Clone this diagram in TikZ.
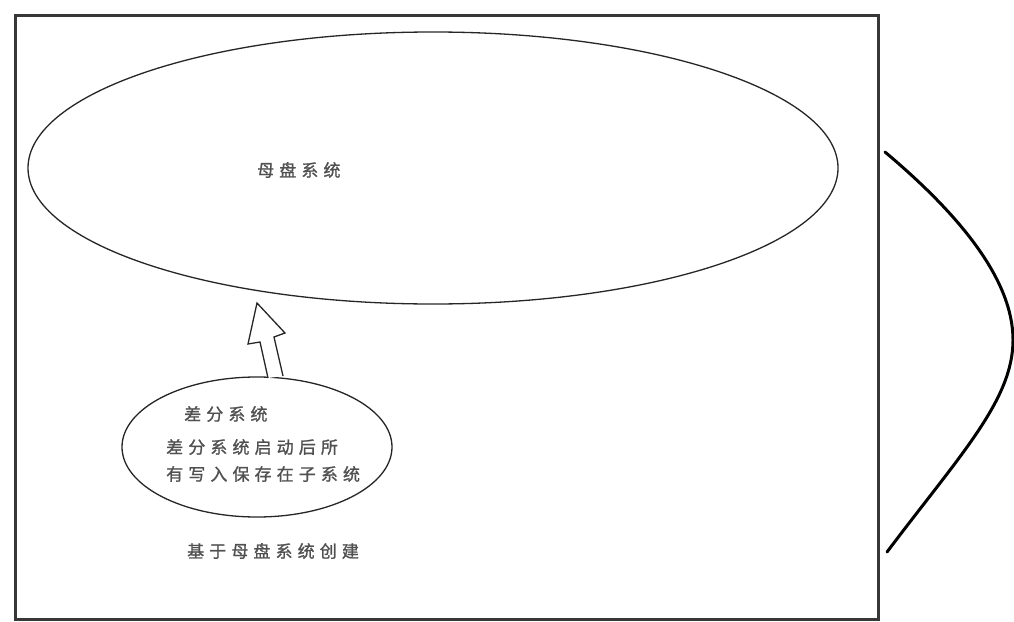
\documentclass[tikz,border=0pt]{standalone}
\usepackage{fontspec}
\newfontfamily\cjk[LetterSpace=30,FakeBold=1.2]{Noto Sans CJK SC}
\usetikzlibrary{shapes.geometric}
\definecolor{frame}{RGB}{55,55,55}
\definecolor{txt}{RGB}{80,80,80}
\tikzset{
  ell/.style={draw=black!85, line width=1.3pt, ellipse, inner sep=0pt},
  lbl/.style={font=\cjk\fontsize{17}{27}\selectfont, text=txt, inner sep=0pt, anchor=west},
}
\begin{document}
\begin{tikzpicture}[x=1pt,y=-1pt]
\useasboundingbox (0,0) rectangle (1014,621);
\fill[white] (0,0) rectangle (1014,621);
% frame
\node[draw=frame, line width=3pt, minimum width=863pt, minimum height=604pt, inner sep=0pt] (frame) at (446.5,317) {};
% ellipses
\node[ell, minimum width=810pt, minimum height=272pt] (mother) at (433,168) {};
\node[ell, minimum width=270pt, minimum height=140pt] (diff) at (257,447) {};
% labels
\node[lbl] (mlabel) at (257,170) {母盘系统};
\node[lbl] (dtitle) at (184,414) {差分系统};
\node[lbl, align=left] (ddesc) at (166,460.5) {差分系统启动后所\\有写入保存在子系统};
\node[lbl] (based) at (187,551) {基于母盘系统创建};
% hollow block arrow
\draw[black!85, line width=1.3pt, line join=miter, fill=white]
  (268,378) -- (260,342) -- (248,344) -- (257,303) -- (285,333) -- (274,337) -- (283,376);
% brace curve
\coordinate (bt) at (885,152);
\coordinate (bm) at (1013,340);
\coordinate (bb) at (887,552);
\draw[black, line width=3pt, line cap=round]
  (bt) .. controls (960,215) and (1013,280) .. (bm)
       .. controls (1013,400) and (960,455) .. (bb);
\end{tikzpicture}
\end{document}
